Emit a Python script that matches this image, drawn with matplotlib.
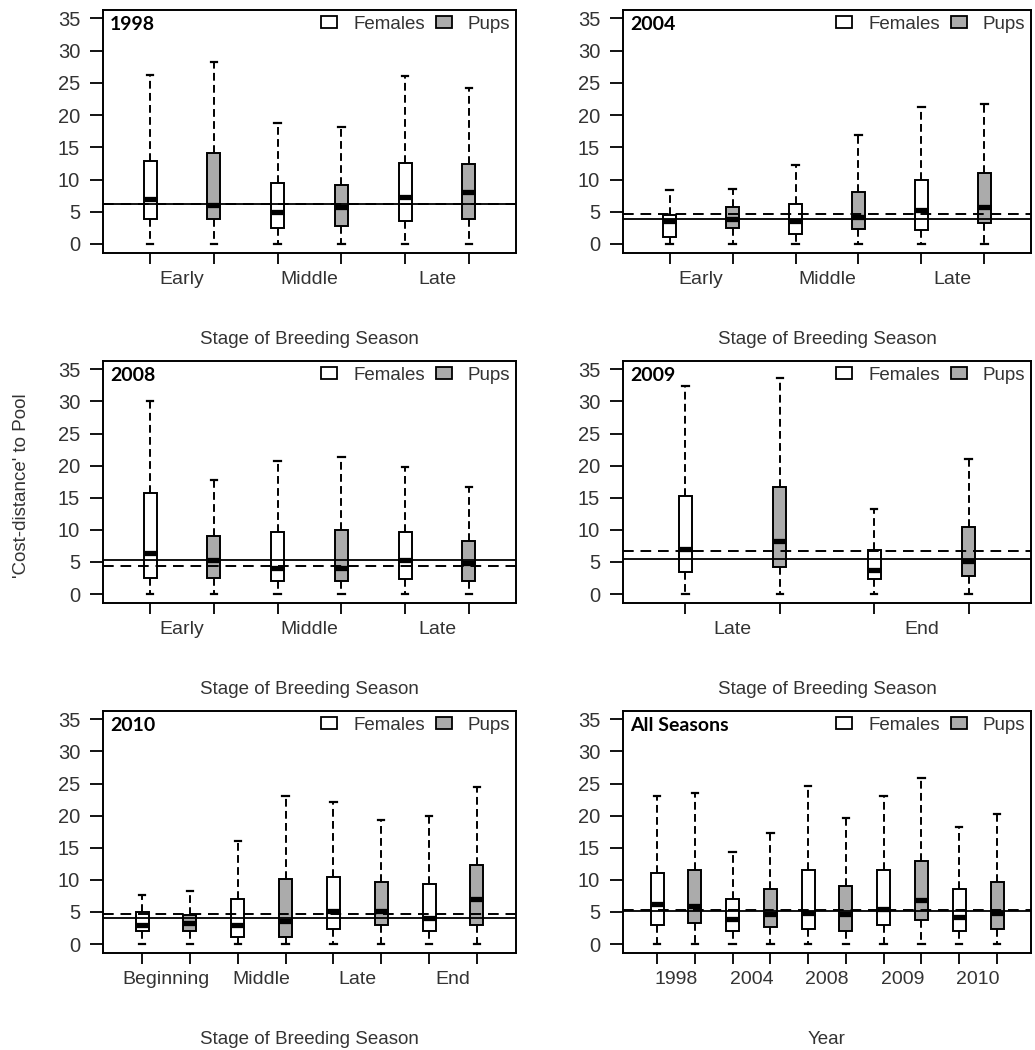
import numpy as np
import matplotlib.pyplot as plt
from matplotlib.patches import Patch

plt.rcParams['font.family'] = ['Liberation Sans', 'DejaVu Sans']

# ---- data, boxes alternate Females / Pups ----
stages_1998 = ['Early', 'Middle', 'Late']
hi_1998 = [26.2, 28.3, 18.7, 18.1, 26.0, 24.2]
q3_1998 = [12.9, 14.1, 9.4, 9.1, 12.6, 12.4]
med_1998 = [7.0, 6.1, 5.0, 5.7, 7.3, 8.0]
q1_1998 = [3.8, 3.8, 2.5, 2.8, 3.5, 3.8]
lo_1998 = [0, 0, 0, 0, 0, 0]
ref_1998 = (6.2, 6.2)  # (solid, dashed)

stages_2004 = ['Early', 'Middle', 'Late']
hi_2004 = [8.4, 8.6, 12.2, 16.9, 21.2, 21.7]
q3_2004 = [4.5, 5.8, 6.2, 8.1, 9.9, 11.0]
med_2004 = [3.5, 3.9, 3.5, 4.2, 5.2, 5.8]
q1_2004 = [1.1, 2.5, 1.5, 2.3, 2.1, 3.2]
lo_2004 = [0, 0, 0, 0, 0, 0]
ref_2004 = (3.9, 4.7)

stages_2008 = ['Early', 'Middle', 'Late']
hi_2008 = [30.0, 17.7, 20.7, 21.3, 19.8, 16.7]
q3_2008 = [15.7, 9.1, 9.6, 9.9, 9.6, 8.2]
med_2008 = [6.4, 5.3, 4.0, 4.0, 5.3, 4.9]
q1_2008 = [2.5, 2.5, 2.0, 2.0, 2.3, 2.0]
lo_2008 = [0, 0, 0, 0, 0, 0]
ref_2008 = (5.3, 4.3)

stages_2009 = ['Late', 'End']
hi_2009 = [32.4, 33.6, 13.3, 21.1]
q3_2009 = [15.2, 16.7, 6.9, 10.5]
med_2009 = [7.0, 8.2, 3.8, 5.2]
q1_2009 = [3.5, 4.2, 2.3, 2.8]
lo_2009 = [0, 0, 0, 0]
ref_2009 = (5.5, 6.7)

stages_2010 = ['Beginning', 'Middle', 'Late', 'End']
hi_2010 = [7.6, 8.2, 16.0, 23.0, 22.2, 19.3, 19.9, 24.4]
q3_2010 = [5.0, 4.5, 7.0, 10.2, 10.5, 9.7, 9.4, 12.3]
med_2010 = [2.9, 3.3, 2.9, 3.6, 5.2, 5.2, 4.1, 7.0]
q1_2010 = [2.1, 2.1, 1.1, 1.1, 2.3, 2.9, 2.1, 2.9]
lo_2010 = [0, 0, 0, 0, 0, 0, 0, 0]
ref_2010 = (4.1, 4.7)

years_all = ['1998', '2004', '2008', '2009', '2010']
hi_all = [23.0, 23.5, 14.4, 17.3, 24.6, 19.7, 23.0, 25.8, 18.3, 20.2]
q3_all = [11.1, 11.5, 7.0, 8.5, 11.5, 9.1, 11.5, 12.9, 8.5, 9.7]
med_all = [6.25, 5.9, 3.9, 4.6, 4.9, 4.6, 5.5, 6.8, 4.2, 4.8]
q1_all = [2.9, 3.2, 2.1, 2.6, 2.3, 2.1, 2.9, 3.8, 2.1, 2.3]
lo_all = [0, 0, 0, 0, 0, 0, 0, 0, 0, 0]
ref_all = (5.1, 5.3)

GRAY = '#ABABAB'
TXT = '#333333'
W, H = 1035, 1050

fig = plt.figure(figsize=(W / 100, H / 100), dpi=100)


def draw_panel(box_px, title, groups, lo, q1, med, q3, hi, ref, xlabel):
    left, top, right, bottom = box_px
    ax = fig.add_axes([left / W, 1 - bottom / H, (right - left) / W, (bottom - top) / H])
    n = len(med)
    pos = np.arange(1, n + 1)
    x0, x1 = 0.5 - 0.04 * n, n + 0.5 + 0.04 * n
    width = 13 / ((right - left) / (x1 - x0))   # boxes ~13 px wide

    stats = [dict(whislo=lo[i], q1=q1[i], med=med[i], q3=q3[i], whishi=hi[i], fliers=[])
             for i in range(n)]
    bp = ax.bxp(stats, positions=pos, widths=width, capwidths=width / 2,
                patch_artist=True, showfliers=False,
                boxprops=dict(edgecolor='black', linewidth=1.4),
                medianprops=dict(color='black', linewidth=3.8, solid_capstyle='butt', zorder=4),
                whiskerprops=dict(color='black', linewidth=1.4, linestyle=(0, (4, 2.2))),
                capprops=dict(color='black', linewidth=1.6))
    for i, b in enumerate(bp['boxes']):
        b.set_facecolor('white' if i % 2 == 0 else GRAY)

    ax.axhline(ref[0], color='black', lw=1.3, zorder=3)
    ax.axhline(ref[1], color='black', lw=1.4, ls=(0, (5.5, 3.5)), zorder=3)

    ax.set_xlim(x0, x1)
    ax.set_ylim(-1.4, 36.3)
    ax.set_yticks(range(0, 36, 5))
    ax.set_xticks(pos)
    ax.set_xticklabels([])
    ax.set_xticks(pos[::2] + 0.5, minor=True)
    ax.set_xticklabels(groups, minor=True)
    ax.tick_params(axis='x', which='minor', length=0, pad=13, labelsize=14, labelcolor=TXT)
    ax.tick_params(axis='x', which='major', length=8, width=1.3)
    ax.tick_params(axis='y', length=9.4, width=1.3, pad=7, labelsize=14.5, labelcolor=TXT)
    for s in ax.spines.values():
        s.set_linewidth(1.4)

    ax.text(0.017, 0.942, title, transform=ax.transAxes, family='Lato',
            fontweight='bold', fontsize=14, va='center', ha='left')
    handles = [Patch(facecolor='white', edgecolor='black', lw=1.3, label='Females'),
               Patch(facecolor=GRAY, edgecolor='black', lw=1.3, label='Pups')]
    ax.legend(handles=handles, loc='upper right', ncol=2, frameon=False, fontsize=13.5,
              handlelength=0.85, handleheight=0.6, handletextpad=0.85, columnspacing=0.6,
              borderaxespad=0.1, borderpad=0.2, labelcolor=TXT)
    ax.annotate(xlabel, xy=(0.5, 0), xycoords='axes fraction', xytext=(0, -62),
                textcoords='offset points', ha='center', va='center', fontsize=13.5, color=TXT)
    return ax


xl = 'Stage of Breeding Season'
draw_panel((103, 10, 516, 253), '1998', stages_1998, lo_1998, q1_1998, med_1998, q3_1998, hi_1998, ref_1998, xl)
draw_panel((623, 10, 1031, 253), '2004', stages_2004, lo_2004, q1_2004, med_2004, q3_2004, hi_2004, ref_2004, xl)
draw_panel((103, 361, 516, 603), '2008', stages_2008, lo_2008, q1_2008, med_2008, q3_2008, hi_2008, ref_2008, xl)
draw_panel((623, 361, 1031, 603), '2009', stages_2009, lo_2009, q1_2009, med_2009, q3_2009, hi_2009, ref_2009, xl)
draw_panel((103, 711, 516, 953), '2010', stages_2010, lo_2010, q1_2010, med_2010, q3_2010, hi_2010, ref_2010, xl)
draw_panel((623, 711, 1031, 953), 'All Seasons', years_all, lo_all, q1_all, med_all, q3_all, hi_all, ref_all, 'Year')

fig.text(22 / W, 1 - 486 / H, "'Cost-distance' to Pool", rotation=90, ha='center', va='center',
         fontsize=13.5, color=TXT)

fig.savefig('out.png', dpi=100)
